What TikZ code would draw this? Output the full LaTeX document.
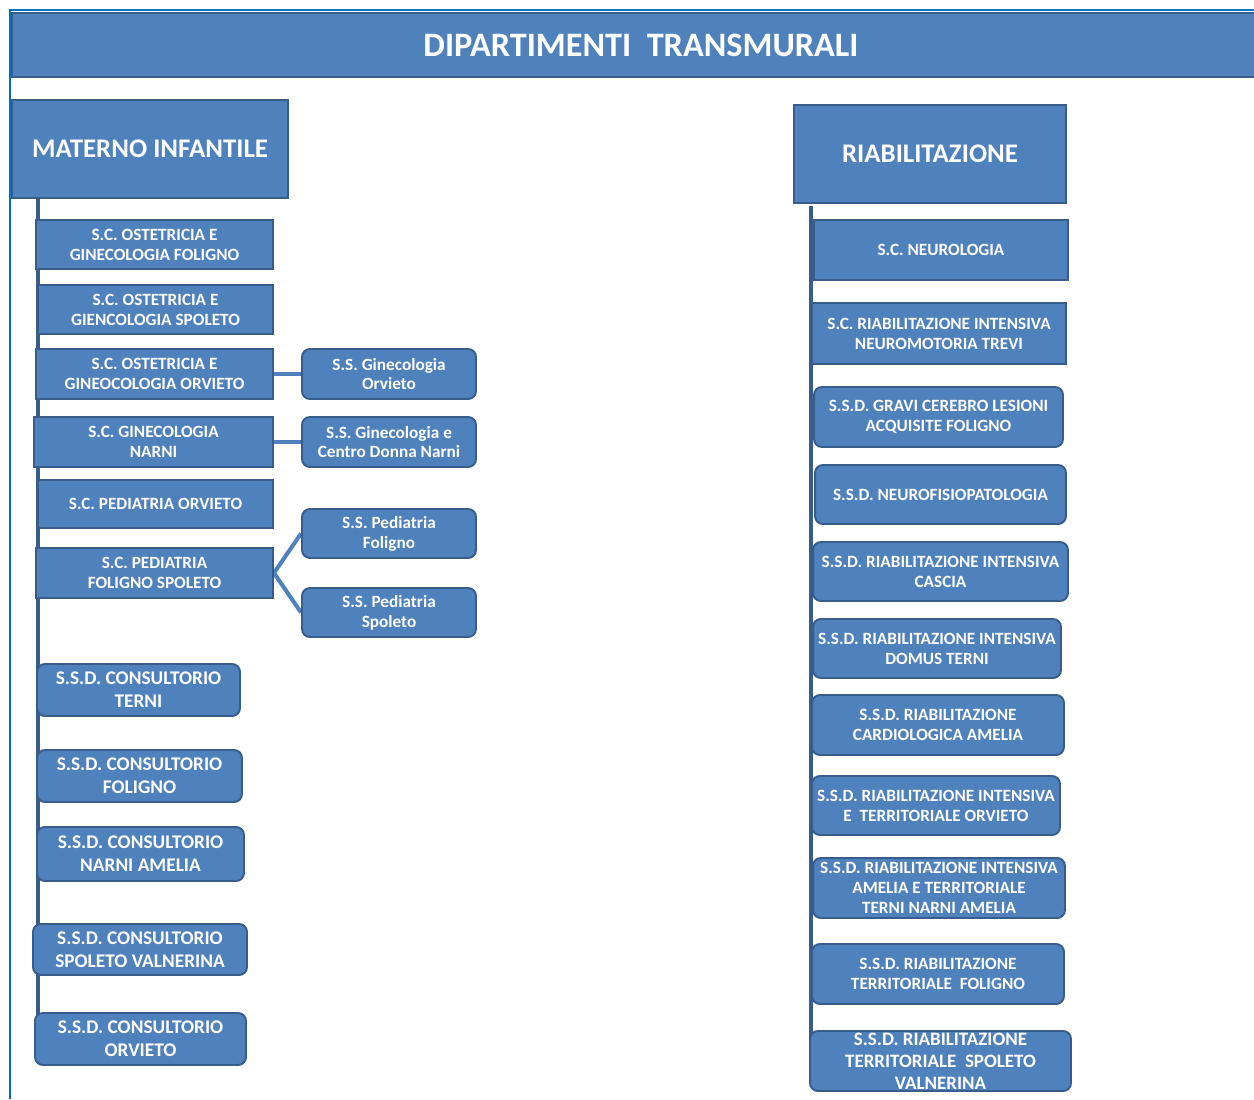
\documentclass[tikz,border=0pt]{standalone}
\usepackage{fontspec}
\setmainfont{Carlito}
\usetikzlibrary{backgrounds}
\definecolor{boxfill}{HTML}{4F81BD}
\definecolor{boxline}{HTML}{385D8A}
\definecolor{frameblue}{HTML}{0070C0}

\begin{document}
\begin{tikzpicture}[x=0.02cm, y=-0.02cm,
    unit/.style={draw=boxline, fill=boxfill, line width=1.1pt, text=white,
      align=center, inner sep=0pt, font=\fontsize{9.8}{11.3}\selectfont\bfseries},
    subunit/.style={unit, rounded corners=4.5pt},
    consult/.style={subunit, font=\fontsize{11}{13}\selectfont\bfseries},
    dept/.style={unit, minimum height=1.96cm, font=\fontsize{15.3}{18}\selectfont\bfseries},
    trunk/.style={draw=boxline, line width=1.8pt},
    link/.style={draw=boxfill, line width=2.3pt}]
        \useasboundingbox (0,0) rectangle (1254,1099);
        \draw[frameblue, line width=1.2pt] (10,1099) -- (10,10) -- (1254,10);  % page frame
        \node[unit, minimum width=25cm, minimum height=1.28cm,
            font=\fontsize{19.5}{22}\selectfont\bfseries] (head) at (637,45)
            {\hspace{0.16cm}DIPARTIMENTI\ \ TRANSMURALI};

        % materno infantile
        \node[dept, minimum width=5.52cm] (mi) at (150,149) {MATERNO INFANTILE};
        \node[unit, minimum width=4.74cm, minimum height=0.98cm] (mi1) at (154.5,244.5)
            {S.C. OSTETRICIA E\\GINECOLOGIA FOLIGNO};
        \node[unit, minimum width=4.70cm, minimum height=0.98cm] (mi2) at (155.5,309.5)
            {S.C. OSTETRICIA E\\GIENCOLOGIA SPOLETO};
        \node[unit, minimum width=4.74cm, minimum height=1cm] (mi3) at (154.5,374)
            {S.C. OSTETRICIA E\\GINEOCOLOGIA ORVIETO};
        \node[unit, minimum width=4.78cm, minimum height=1cm] (mi4) at (153.5,442)
            {S.C. GINECOLOGIA\\NARNI};
        \node[unit, minimum width=4.70cm, minimum height=0.96cm] (mi5) at (155.5,504)
            {S.C. PEDIATRIA ORVIETO};
        \node[unit, minimum width=4.74cm, minimum height=1cm] (mi6) at (154.5,573)
            {S.C. PEDIATRIA\\FOLIGNO SPOLETO};
        \node[subunit, minimum width=3.48cm, minimum height=1cm] (ss3) at (389,374)
            {S.S. Ginecologia\\Orvieto};
        \node[subunit, minimum width=3.48cm, minimum height=1cm] (ss4) at (389,442)
            {S.S. Ginecologia e\\Centro Donna Narni};
        \node[subunit, minimum width=3.48cm, minimum height=0.98cm] (ss6a) at (389,533.5)
            {S.S. Pediatria\\Foligno};
        \node[subunit, minimum width=3.48cm, minimum height=0.98cm] (ss6b) at (389,612.5)
            {S.S. Pediatria\\Spoleto};
        \node[consult, minimum width=4.06cm, minimum height=1.04cm] (cs1) at (138.5,690)
            {S.S.D. CONSULTORIO\\TERNI};
        \node[consult, minimum width=4.10cm, minimum height=1.04cm] (cs2) at (139.5,776)
            {S.S.D. CONSULTORIO\\FOLIGNO};
        \node[consult, minimum width=4.14cm, minimum height=1.08cm] (cs3) at (140.5,854)
            {S.S.D. CONSULTORIO\\NARNI AMELIA};
        \node[consult, minimum width=4.28cm, minimum height=1.02cm] (cs4) at (140,949.5)
            {S.S.D. CONSULTORIO\\SPOLETO VALNERINA};
        \node[consult, minimum width=4.22cm, minimum height=1.04cm] (cs5) at (140.5,1039)
            {S.S.D. CONSULTORIO\\ORVIETO};

        % riabilitazione
        \node[dept, minimum width=5.44cm] (ri) at (930,154) {RIABILITAZIONE};
        \node[unit, minimum width=5.08cm, minimum height=1.2cm] (ri1) at (941,250)
            {S.C. NEUROLOGIA};
        \node[unit, minimum width=5.08cm, minimum height=1.22cm] (ri2) at (939,333.5)
            {S.C. RIABILITAZIONE INTENSIVA\\NEUROMOTORIA TREVI};
        \node[subunit, minimum width=4.98cm, minimum height=1.2cm] (ri3) at (938.5,417)
            {S.S.D. GRAVI CEREBRO LESIONI\\ACQUISITE FOLIGNO};
        \node[subunit, minimum width=5.02cm, minimum height=1.18cm] (ri4) at (940.5,494.5)
            {S.S.D. NEUROFISIOPATOLOGIA};
        \node[subunit, minimum width=5.10cm, minimum height=1.18cm] (ri5) at (940.5,571.5)
            {S.S.D. RIABILITAZIONE INTENSIVA\\CASCIA};
        \node[subunit, minimum width=4.96cm, minimum height=1.18cm] (ri6) at (937,648.5)
            {S.S.D. RIABILITAZIONE INTENSIVA\\DOMUS TERNI};
        \node[subunit, minimum width=5.04cm, minimum height=1.2cm] (ri7) at (938,725)
            {S.S.D. RIABILITAZIONE\\CARDIOLOGICA AMELIA};
        \node[subunit, minimum width=4.96cm, minimum height=1.18cm] (ri8) at (936,805.5)
            {S.S.D. RIABILITAZIONE INTENSIVA\\E\ \ TERRITORIALE ORVIETO};
        \node[subunit, minimum width=5.04cm, minimum height=1.2cm] (ri9) at (939,888)
            {S.S.D. RIABILITAZIONE INTENSIVA\\AMELIA E TERRITORIALE\\TERNI NARNI AMELIA};
        \node[subunit, minimum width=5.04cm, minimum height=1.2cm] (ri10) at (938,974)
            {S.S.D. RIABILITAZIONE\\TERRITORIALE\ \ FOLIGNO};
        \node[subunit, minimum width=5.22cm, minimum height=1.2cm,
            font=\fontsize{10.8}{12.4}\selectfont\bfseries] (ri11) at (940.5,1061)
            {S.S.D. RIABILITAZIONE\\TERRITORIALE\ \ SPOLETO\\VALNERINA};

        \begin{scope}[on background layer]
            \coordinate (lt) at (38,198);   % top of the left trunk
            \coordinate (rt) at (811,206);  % top of the right trunk
            \draw[trunk] (lt) -- (lt |- cs5.west);
            \draw[trunk] (rt) -- (rt |- ri11.west);
            \draw[link] (mi3.east) -- (ss3.west);
            \draw[link] (mi4.east) -- (ss4.west);
            \draw[link] (mi6.east) -- (ss6a.west);
            \draw[link] (mi6.east) -- (ss6b.west);
        \end{scope}
    \end{tikzpicture}
\end{document}
